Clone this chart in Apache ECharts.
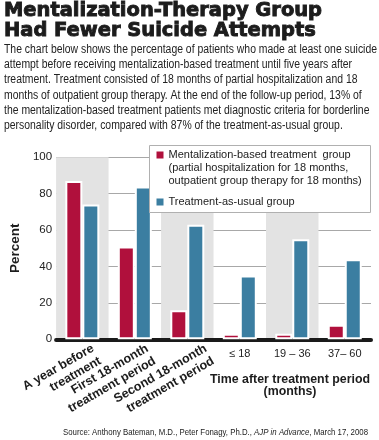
<!DOCTYPE html>
<html><head><meta charset="utf-8">
<script src="https://cdn.jsdelivr.net/npm/echarts@6/dist/echarts.min.js"></script>
<style>html,body{margin:0;padding:0;background:#fff}#c{width:379px;height:440px}</style>
</head><body><div id="c"></div>
<script>
// ---- data ----
const titleLines = ['Mentalization-Therapy Group', 'Had Fewer Suicide Attempts'];
const bodyLines = [
  'The chart below shows the percentage of patients who made at least one suicide',
  'attempt before receiving mentalization-based treatment until five years after',
  'treatment. Treatment consisted of 18 months of partial hospitalization and 18',
  'months of outpatient group therapy. At the end of the follow-up period, 13% of',
  'the mentalization-based treatment patients met diagnostic criteria for borderline',
  'personality disorder, compared with 87% of the treatment-as-usual group.'
];
const categories = ['A year before\ntreatment', 'First 18-month\ntreatment period', 'Second 18-month\ntreatment period', '≤ 18', '19 – 36', '37– 60'];
const rotatedLabelCount = 3;
const mbtValues = [87, 51, 16, 3, 3, 8];
const tauValues = [74, 84, 63, 35, 55, 44];
const seriesNames = [
  'Mentalization-based treatment  group\n(partial hospitalization for 18 months,\noutpatient group therapy for 18 months)',
  'Treatment-as-usual group'
];
const yMin = 0, yMax = 100, yStep = 20;
const yAxisName = 'Percent';
const xAxisNameLines = ['Time after treatment period', '(months)'];
const sourceParts = ['Source: Anthony Bateman, M.D., Peter Fonagy, Ph.D., ', 'AJP in Advance', ', March 17, 2008'];

// ---- styles ----
const SANS = "'Liberation Sans', Arial, sans-serif";
const HEAVY = "'DejaVu Sans', 'Liberation Sans', sans-serif";
const RED = '#b0103c', BLUE = '#3b7ea1', SHADE = '#e3e3e3', INK = '#1c1c1c';

const mctx = document.createElement('canvas').getContext('2d');
function tw(text, font) { mctx.font = font; return mctx.measureText(text).width; }

const chart = echarts.init(document.getElementById('c'), null, { renderer: 'canvas' });
chart.setOption({
  animation: false,
  backgroundColor: '#fff',
  grid: { left: 32, right: 8, top: 157.3, bottom: 100.7, containLabel: false },
  legend: {
    orient: 'vertical', left: 156.5, top: 148.5, padding: 0, z: 6,
    itemWidth: 7, itemHeight: 33, itemGap: -2, selectedMode: false,
    itemStyle: { borderWidth: 0 },
    textStyle: { fontFamily: SANS, fontSize: 11, lineHeight: 13, color: '#222' },
    data: [
      { name: seriesNames[0], icon: 'path://M0,0h7v7h-7z M0,33h0z' },
      { name: seriesNames[1], icon: 'path://M0,0h0z M0,13h7v7h-7z M0,33h0z' }
    ]
  },
  xAxis: {
    type: 'category', data: categories, offset: 2,
    axisLine: { show: true, lineStyle: { color: '#1a1a1a', width: 4 } },
    axisTick: { show: false },
    splitArea: { show: true, areaStyle: { color: [SHADE, 'rgba(255,255,255,0)'] } },
    axisLabel: {
      interval: 0, margin: 7, fontFamily: SANS, fontSize: 11, color: '#222',
      formatter: (v, i) => (i >= rotatedLabelCount ? v : '')
    }
  },
  yAxis: {
    type: 'value', min: yMin, max: yMax, interval: yStep,
    axisLine: { show: false }, axisTick: { show: false },
    splitLine: { lineStyle: { color: '#a8a8a8', width: 1 } },
    axisLabel: { margin: 4, fontFamily: SANS, fontSize: 11.5, color: '#222' },
    name: yAxisName, nameLocation: 'middle', nameGap: 19,
    nameTextStyle: { fontFamily: SANS, fontWeight: 'bold', fontSize: 13.5, color: INK }
  },
  series: [
    {
      name: seriesNames[0], type: 'bar', data: mbtValues,
      barWidth: 17, barGap: '0%',
      itemStyle: { color: RED, borderColor: '#fff', borderWidth: 2 }
    },
    {
      name: seriesNames[1], type: 'bar', data: tauValues,
      barWidth: 17, barGap: '0%',
      itemStyle: { color: BLUE, borderColor: '#fff', borderWidth: 2 }
    }
  ]
});

// ---- text drawn as graphic elements ----
const titleFont = 'bold 19px ' + HEAVY;
const titleScale = 318 / tw(titleLines[0], titleFont);
const bodyFont = '12px ' + SANS;
const bodyScale = 373 / tw(bodyLines[0], bodyFont);
const axisNameFont = 'bold 13px ' + SANS;
const axisNameScale = 160 / tw(xAxisNameLines[0], axisNameFont);
const srcFont = '9.6px ' + SANS;
const srcW = tw(sourceParts[0], srcFont) + tw(sourceParts[1], 'italic ' + srcFont) + tw(sourceParts[2], srcFont);
const srcScale = 305 / srcW;
const rotFont = 'bold 12.5px ' + SANS;

const graphics = [];
titleLines.forEach((t, i) => graphics.push({
  type: 'text', x: 4, y: 11.3 + i * 19.5, scaleX: titleScale, z: 10,
  style: { text: t, font: titleFont, fill: INK, stroke: INK, lineWidth: 0.9, align: 'left', verticalAlign: 'middle' }
}));
bodyLines.forEach((t, i) => graphics.push({
  type: 'text', x: 4, y: 49.6 + i * 15.2, scaleX: bodyScale, z: 10,
  style: { text: t, font: bodyFont, fill: '#222', align: 'left', verticalAlign: 'middle' }
}));
xAxisNameLines.forEach((t, i) => graphics.push({
  type: 'text', x: 290, y: 379.3 + i * 12.5, scaleX: axisNameScale, z: 10,
  style: { text: t, font: axisNameFont, fill: INK, align: 'center', verticalAlign: 'middle' }
}));
graphics.push({
  type: 'text', x: 368, y: 432, scaleX: srcScale, z: 10,
  style: {
    text: '{a|' + sourceParts[0] + '}{b|' + sourceParts[1] + '}{a|' + sourceParts[2] + '}',
    align: 'right', verticalAlign: 'middle',
    rich: {
      a: { font: srcFont, fill: '#222' },
      b: { font: 'italic ' + srcFont, fill: '#222' }
    }
  }
});
// rotated category labels, anchored on the category axis positions
for (let i = 0; i < rotatedLabelCount; i++) {
  const p = chart.convertToPixel({ xAxisIndex: 0, yAxisIndex: 0 }, [i, yMin]);
  graphics.push({
    type: 'text', x: p[0] + 7 + i * i * 2, y: p[1] + 2, rotation: Math.PI / 6, z: 10,
    style: { text: categories[i], font: rotFont, lineHeight: 14.5, fill: INK, align: 'right', verticalAlign: 'top' }
  });
}
// legend frame
graphics.push({
  type: 'rect', z: 3,
  shape: { x: 149.5, y: 145.5, width: 221, height: 67 },
  style: { fill: '#fff', stroke: '#b0b0b0', lineWidth: 1 }
});
chart.setOption({ graphic: { elements: graphics } });
</script>
</body></html>
